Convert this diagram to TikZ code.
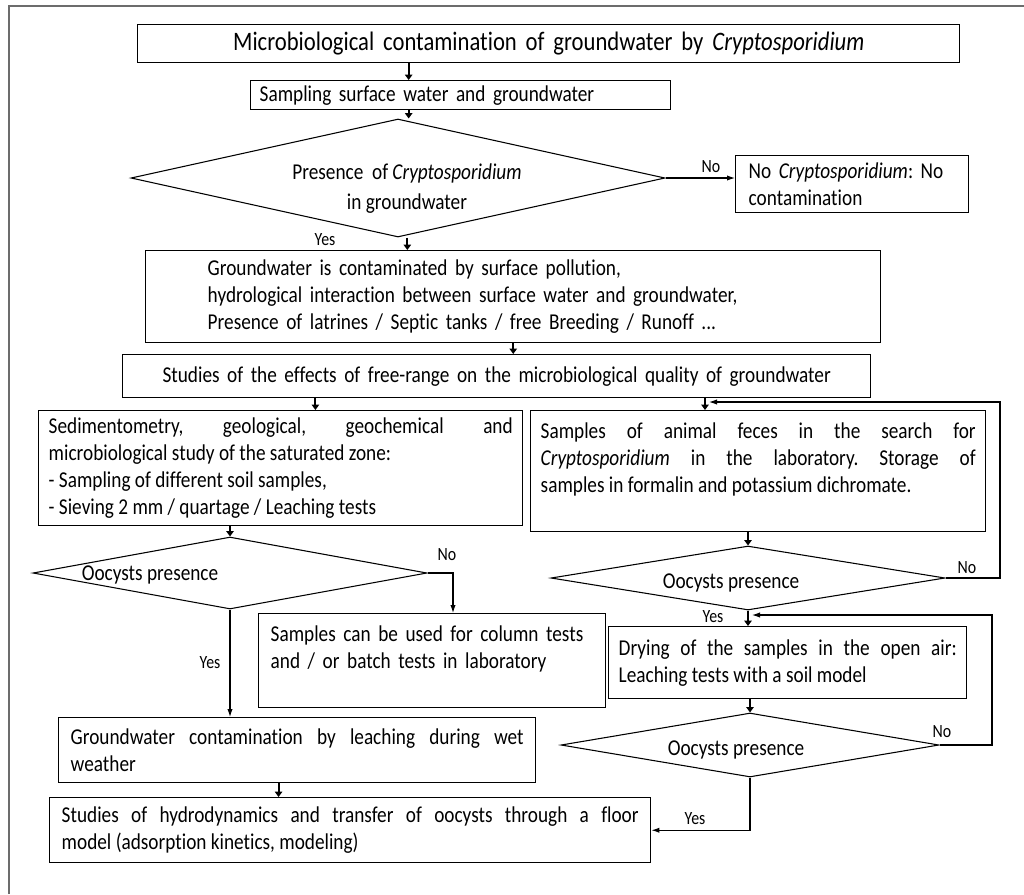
\documentclass[tikz,border=0pt]{standalone}
\usepackage{fontspec}
\setmainfont{Carlito}[FakeStretch=0.85, Ligatures=CommonOff]
\usetikzlibrary{arrows.meta,shapes.geometric,positioning}
\newcommand{\cryp}{\textit{Cryptosporidium}}
\newcommand{\boxfont}{\fontsize{17}{20.3}\selectfont\frenchspacing}

\tikzset{
  box/.style n args={3}{draw, line width=1.1pt, anchor=north west, inner ysep=0pt,
    inner xsep=#3*0.75pt, minimum width=#1*0.75pt, minimum height=#2*0.75pt,
    /utils/exec={\pgfmathsetlengthmacro\boxtw{(#1-2*#3)*0.75pt}}, text width=\boxtw},
  dec/.style 2 args={draw, diamond, line width=0.8pt, inner sep=0pt,
    minimum width=#1*0.75pt, minimum height=#2*0.75pt},
  flow/.style={line width=1.5pt, -{Triangle[length=4pt,width=5.5pt]}},
  link/.style={line width=0.8pt, -{Latex[length=6pt,width=4pt]}},
  lbl/.style={font=\fontsize{14}{16}\selectfont},
}

\begin{document}
\begin{tikzpicture}[x=0.75pt,y=-0.75pt,font=\boxfont]
    \useasboundingbox (0,0) rectangle (1024,894);
    \draw[gray!85!black, line width=1.5pt] (9,894) -- (9,6) -- (1024,6);

    % boxes
    \node[box={822}{38}{0}, align=center, font=\fontsize{20}{22}\selectfont] (title) at (137,24)
        {Microbiological contamination of groundwater by \cryp};
    \node[box={420}{29}{9}, align=left] (sampling) at (250,80) {Sampling surface water and groundwater};
    \node[box={233}{57}{13}, align=left] (nocont) at (735,155) {No \cryp: No\\contamination};
    \node[box={735}{92}{62}, align=left] (pollution) at (145,250)
        {Groundwater is contaminated by surface pollution,\\
         hydrological interaction between surface water and groundwater,\\
         Presence of latrines / Septic tanks / free Breeding / Runoff ...};
    \node[box={748}{43}{0}, align=center] (freerange) at (122,354)
        {Studies of the effects of free-range on the microbiological quality of groundwater};
    \node[box={484}{115}{10}, align=justify] (sedim) at (38,410)
        {Sedimentometry, geological, geochemical and\linebreak
         microbiological study of the saturated zone:\\
         - Sampling of different soil samples,\\
         - Sieving 2 mm / quartage / Leaching tests};
    \node[box={455}{121}{10}, align=justify] (feces) at (530,410)
        {Samples of animal feces in the search for\linebreak
         \cryp{} in the laboratory. Storage of\linebreak
         samples in formalin and potassium dichromate.\\\mbox{}};
    \node[box={347}{94}{12}, align=left] (columns) at (258,613)
        {Samples can be used for column tests\\and / or batch tests in laboratory\\\mbox{}};
    \node[box={358}{72}{10}, align=justify] (drying) at (608,626)
        {Drying of the samples in the open air:\linebreak Leaching tests with a soil model};
    \node[box={477}{65}{12}, align=justify] (leaching) at (58,717)
        {Groundwater contamination by leaching during wet\linebreak weather};
    \node[box={601}{65}{12}, align=justify] (hydro) at (49,797)
        {Studies of hydrodynamics and transfer of oocysts through a floor\linebreak
         model (adsorption kinetics, modeling)};

    % decisions
    \node[dec={534}{118}] (presence) at (398,178) {};
    \node[dec={394}{72}] (oocL) at (230,573) {};
    \node[dec={394}{64}] (oocR) at (748,578) {};
    \node[dec={378}{64}] (oocD) at (750,745) {};

    \node[align=center, font=\fontsize{17}{22.5}\selectfont] (presencetxt) at (407,189)
        {Presence\ \ of \cryp\\in groundwater};
    \node (oocLtxt) at (150,575) {Oocysts presence};
    \node (oocRtxt) at (731,583) {Oocysts presence};
    \node (oocDtxt) at (736,750) {Oocysts presence};

    \coordinate (split) at (705,402);
    \coordinate (loopA) at (1000,402);
    \coordinate (loopB) at (992,615);
    \coordinate (nobend) at (453,573);

    % main flow
    \draw[flow] ([xshift=8pt]title.south -| presence.north) -- ([xshift=8pt]sampling.north -| presence.north);
    \draw[flow] ([xshift=8pt]sampling.south -| presence.north) -- ([xshift=8pt]presence.north);
    \draw[flow] ([xshift=7pt]presence.south) -- ([xshift=7pt]presence.south |- pollution.north);
    \draw[link] (presence.east) -- (presence.east -| nocont.west);
    \draw[flow] (pollution.south) -- (pollution.south |- freerange.north);
    \draw[flow] ([xshift=26pt]sedim.north |- freerange.south) -- ([xshift=26pt]sedim.north);
    \draw[flow] (freerange.south -| split) -- (feces.north -| split);

    % left branch
    \draw[flow] (sedim.south -| oocL.north) -- (oocL.north);
    \draw[link] (oocL.east) -- (nobend) -- (nobend |- columns.north);
    \draw[link] (oocL.south) -- (oocL.south |- leaching.north);
    \draw[flow] ([xshift=-14pt]leaching.south) -- ([xshift=-14pt]leaching.south |- hydro.north);

    % right branch
    \draw[flow] (feces.south -| oocR.north) -- (oocR.north);
    \draw[link] (oocR.east) -| (loopA) -- ([xshift=3pt]split);
    \draw[flow] (oocR.south) -- (oocR.south |- drying.north);
    \draw[flow] (drying.south -| oocD.north) -- (oocD.north);
    \draw[link] (oocD.east) -| (loopB) -- ([xshift=3pt]loopB -| oocR.south);
    \draw[link] (oocD.south) |- (hydro.east);

    % yes / no
    \node[lbl] (no1) at (711,167) {No};
    \node[lbl] (yes1) at (325,240) {Yes};
    \node[lbl] (no2) at (447,555) {No};
    \node[lbl] (yes2) at (210,663) {Yes};
    \node[lbl] (no3) at (967,568) {No};
    \node[lbl] (yes3) at (713,617) {Yes};
    \node[lbl] (no4) at (942,732) {No};
    \node[lbl] (yes4) at (695,819) {Yes};
\end{tikzpicture}
\end{document}
